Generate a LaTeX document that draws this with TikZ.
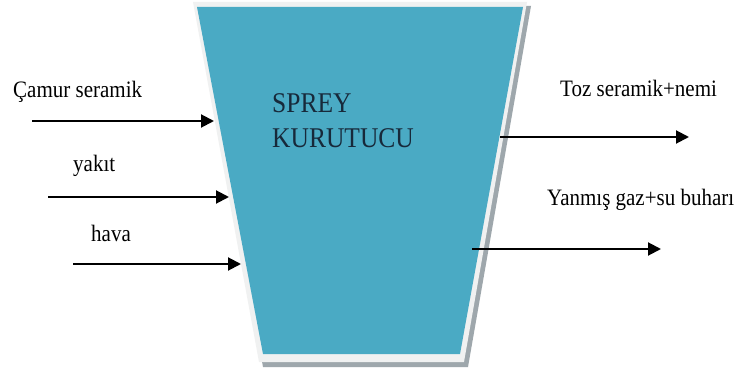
\documentclass[tikz,border=0pt]{standalone}
\usepackage{fontspec}
\setmainfont{Liberation Serif}
\usetikzlibrary{arrows.meta}
\definecolor{teal1}{HTML}{4AAAC4}
\definecolor{rimc}{HTML}{F0F1F1}
\definecolor{shadc}{HTML}{9EA7AC}
\definecolor{txtc}{HTML}{17293A}
\newcommand{\tall}[1]{\scalebox{1}[1.12]{#1}}
\tikzset{
  lbl/.style={anchor=base west, inner sep=0pt, font=\fontsize{21}{25}\selectfont, text=black},
  big/.style={anchor=base west, inner sep=0pt, font=\fontsize{25.5}{30}\selectfont, text=txtc},
  flow/.style={line width=2pt, -{Triangle[length=13pt,width=13pt]}, black}
}
\begin{document}
\begin{tikzpicture}[x=1pt,y=-1pt]
\useasboundingbox (0,0) rectangle (739,371);
\fill[white] (0,0) rectangle (739,371);
% dryer body
\fill[shadc] (197,6) -- (531,6) -- (468,367) -- (263,367) -- cycle;
\fill[rimc] (193,2) -- (527,2) -- (464,362) -- (259,362) -- cycle;
\fill[teal1] (197,7) -- (523,7) -- (460,354) -- (263,354) -- cycle;
\node[big] (t1) at (272,113) {\tall{SPREY}};
\node[big] (t2) at (272,148) {\tall{KURUTUCU}};
% labels
\node[lbl] (l1) at (13,98) {\tall{Çamur seramik}};
\node[lbl] (l2) at (73,172) {\tall{yakıt}};
\node[lbl] (l3) at (91,242) {\tall{hava}};
\node[lbl] (r1) at (560,97) {\tall{Toz seramik+nemi}};
\node[lbl] (r2) at (547,206) {\tall{Yanmış gaz+su buharı}};
% arrow endpoints
\coordinate (a1s) at (32,121);  \coordinate (a1e) at (214,121);
\coordinate (a2s) at (48,197);  \coordinate (a2e) at (229,197);
\coordinate (a3s) at (73,264);  \coordinate (a3e) at (241,264);
\coordinate (b1s) at (500,137); \coordinate (b1e) at (689,137);
\coordinate (b2s) at (472,249); \coordinate (b2e) at (661,249);
\draw[flow] (a1s) -- (a1e);
\draw[flow] (a2s) -- (a2e);
\draw[flow] (a3s) -- (a3e);
\draw[flow] (b1s) -- (b1e);
\draw[flow] (b2s) -- (b2e);
\end{tikzpicture}
\end{document}
